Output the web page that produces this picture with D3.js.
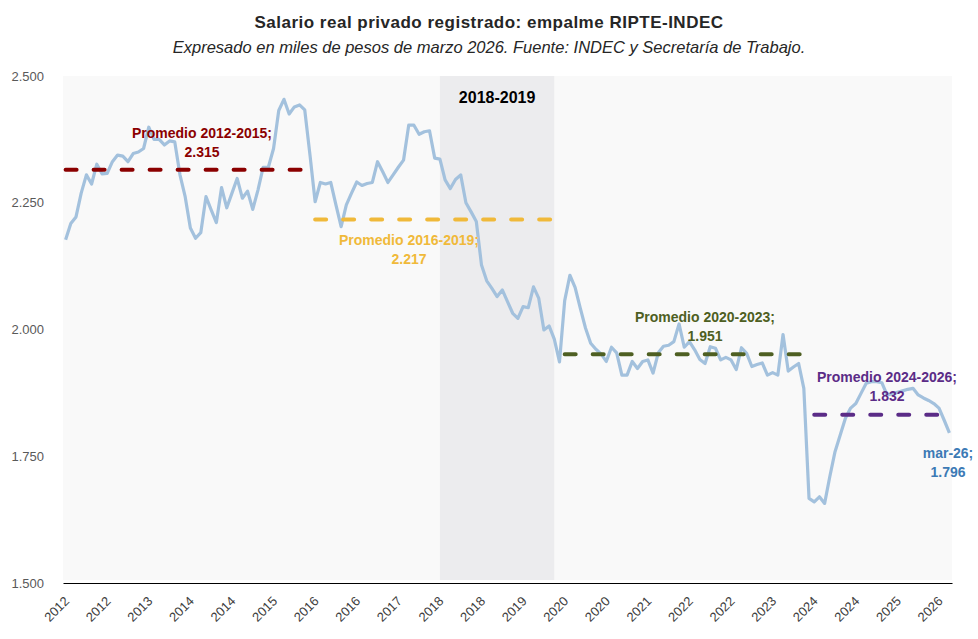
<!DOCTYPE html>
<html>
<head>
<meta charset="utf-8">
<script src="https://cdn.jsdelivr.net/npm/d3@7"></script>
<style>
  body { margin: 0; background: #ffffff; }
  svg { display: block; font-family: "Liberation Sans", Arial, sans-serif; }
</style>
</head>
<body>
<div class="chart"></div>
<script>
var svgWidth = 978;
var svgHeight = 639;

var margin = { top: 76, right: 26, bottom: 56, left: 63 };
var width = svgWidth - margin.left - margin.right;
var height = svgHeight - margin.top - margin.bottom;

// monthly series, ene-2012 .. mar-2026 (miles de pesos de mar-2026)
var startYear = 2012;
var monthNames = ["ene", "feb", "mar", "abr", "may", "jun", "jul", "ago", "sep", "oct", "nov", "dic"];
var salario = [
  2177, 2209, 2222, 2269, 2305, 2287, 2326, 2307, 2308, 2331, 2344, 2342,
  2331, 2347, 2350, 2357, 2399, 2375, 2375, 2364, 2372, 2370, 2305, 2262,
  2200, 2180, 2191, 2262, 2236, 2211, 2280, 2240, 2269, 2298, 2259, 2273,
  2237, 2275, 2320, 2320, 2357, 2432, 2454, 2425, 2439, 2443, 2433, 2345,
  2252, 2290, 2287, 2290, 2246, 2203, 2246, 2269, 2291, 2284, 2288, 2290,
  2331, 2311, 2290, 2305, 2320, 2334, 2403, 2403, 2385, 2390, 2392, 2338,
  2336, 2295, 2278, 2296, 2305, 2250, 2232, 2213, 2127, 2096, 2081, 2065,
  2078, 2055, 2032, 2022, 2045, 2043, 2084, 2062, 1999, 2007, 1981, 1936,
  2057, 2107, 2083, 2042, 2003, 1973, 1961, 1952, 1937, 1965, 1954, 1910,
  1910, 1937, 1923, 1937, 1940, 1914, 1954, 1967, 1969, 1976, 2011, 1965,
  1976, 1960, 1941, 1933, 1966, 1963, 1940, 1945, 1940, 1921, 1964, 1953,
  1927, 1931, 1934, 1910, 1915, 1910, 1990, 1918, 1926, 1933, 1884, 1667,
  1660, 1670, 1657, 1710, 1759, 1792, 1825, 1845, 1854, 1874, 1894, 1897,
  1897, 1895, 1871, 1873, 1876, 1879, 1882, 1884, 1871, 1865, 1860, 1854,
  1845, 1821, 1796
];
var months = salario.map(function(d, i) {
  return monthNames[i % 12] + "-" + String(startYear + Math.floor(i / 12)).slice(2);
});

// period averages
var avgNames = ["Promedio 2012-2015", "Promedio 2016-2019", "Promedio 2020-2023", "Promedio 2024-2026"];
var avgValues = [2315, 2217, 1951, 1832];
var avgFrom = ["ene-12", "ene-16", "ene-20", "ene-24"];
var avgTo = ["dic-15", "dic-19", "dic-23", "mar-26"];

var shadeFrom = "ene-18";
var shadeTo = "nov-19";
var shadeLabel = "2018-2019";

var yTicks = [1500, 1750, 2000, 2250, 2500];
var labelEvery = 8;

// styles / label placement
var avgColors = ["#8b0000", "#f0b93a", "#4e5f22", "#5b2c87"];
var avgLabelPos = [[202, 138], [409, 245], [705, 322], [887, 382]];

var fmt = d3.formatLocale({ decimal: ",", thousands: ".", grouping: [3], currency: ["$", ""] }).format(",.0f");
var fmt3 = function(v) { return (v / 1000).toFixed(3); };

var svg = d3.select(".chart")
  .append("svg")
  .attr("width", svgWidth)
  .attr("height", svgHeight);

svg.append("text")
  .attr("x", 489)
  .attr("y", 28)
  .attr("text-anchor", "middle")
  .attr("font-size", "17px")
  .attr("letter-spacing", "0.5px")
  .attr("font-weight", "bold")
  .attr("fill", "#262626")
  .text("Salario real privado registrado: empalme RIPTE-INDEC");

svg.append("text")
  .attr("x", 489)
  .attr("y", 53)
  .attr("text-anchor", "middle")
  .attr("font-size", "16.5px")
  .attr("font-style", "italic")
  .attr("fill", "#262626")
  .text("Expresado en miles de pesos de marzo 2026. Fuente: INDEC y Secretaría de Trabajo.");

var chartGroup = svg.append("g")
  .attr("transform", `translate(${margin.left}, ${margin.top})`);

var xScale = d3.scaleBand()
  .domain(months)
  .range([0, width])
  .padding(0);

var yScale = d3.scaleLinear()
  .domain([1500, 2500])
  .range([height, 0]);

var cx = function(m) { return xScale(m) + xScale.bandwidth() / 2; };

// plot background
chartGroup.append("rect")
  .attr("x", 0)
  .attr("y", 0)
  .attr("width", width)
  .attr("height", height - 3)
  .attr("fill", "#f9f9f9");

// 2018-2019 band
chartGroup.append("rect")
  .attr("x", cx(shadeFrom))
  .attr("y", 0)
  .attr("width", cx(shadeTo) - cx(shadeFrom))
  .attr("height", height - 3)
  .attr("fill", "#ececee");

chartGroup.append("text")
  .attr("x", (cx(shadeFrom) + cx(shadeTo)) / 2)
  .attr("y", 27)
  .attr("text-anchor", "middle")
  .attr("font-size", "16px")
  .attr("font-weight", "bold")
  .attr("fill", "#000000")
  .text(shadeLabel);

// axes
var leftAxis = d3.axisLeft(yScale)
  .tickValues(yTicks)
  .tickFormat(fmt)
  .tickSize(0)
  .tickPadding(19);

chartGroup.append("g")
  .call(leftAxis)
  .call(g => g.select(".domain").remove())
  .selectAll("text")
  .attr("font-family", "Liberation Sans, Arial, sans-serif")
  .attr("font-size", "13px")
  .attr("fill", "#595959");

var bottomAxis = d3.axisBottom(xScale)
  .tickValues(months.filter((d, i) => i % labelEvery === 0))
  .tickFormat(d => "20" + d.split("-")[1])
  .tickSize(0)
  .tickSizeOuter(0);

var xAxisG = chartGroup.append("g")
  .attr("transform", `translate(0, ${height})`)
  .call(bottomAxis);

xAxisG.select(".domain")
  .attr("stroke", "#000000")
  .attr("stroke-width", 1.2);

xAxisG.selectAll("text")
  .attr("x", 0)
  .attr("y", 0)
  .attr("dy", 0)
  .attr("transform", "translate(4.5, 19) rotate(-45)")
  .attr("text-anchor", "end")
  .attr("font-family", "Liberation Sans, Arial, sans-serif")
  .attr("font-size", "13px")
  .attr("fill", "#404040");

// series line
var line = d3.line()
  .x((d, i) => cx(months[i]))
  .y(d => yScale(d));

chartGroup.append("path")
  .datum(salario)
  .attr("fill", "none")
  .attr("stroke", "#a3c1dd")
  .attr("stroke-width", 3.2)
  .attr("stroke-linejoin", "round")
  .attr("d", line);

// average lines
avgValues.forEach(function(v, k) {
  chartGroup.append("line")
    .attr("x1", cx(avgFrom[k]))
    .attr("x2", cx(avgTo[k]))
    .attr("y1", yScale(v))
    .attr("y2", yScale(v))
    .attr("stroke", avgColors[k])
    .attr("stroke-width", 4)
    .attr("stroke-linecap", "round")
    .attr("stroke-dasharray", "11 17");

  var t = svg.append("text")
    .attr("text-anchor", "middle")
    .attr("font-size", "14px")
    .attr("font-weight", "bold")
    .attr("fill", avgColors[k]);
  t.append("tspan")
    .attr("x", avgLabelPos[k][0])
    .attr("y", avgLabelPos[k][1])
    .text(avgNames[k] + ";");
  t.append("tspan")
    .attr("x", avgLabelPos[k][0])
    .attr("y", avgLabelPos[k][1] + 19)
    .text(fmt3(v));
});

// last value label
var last = salario.length - 1;
var lastLabel = svg.append("text")
  .attr("text-anchor", "middle")
  .attr("font-size", "14px")
  .attr("font-weight", "bold")
  .attr("fill", "#3c7ab5");
lastLabel.append("tspan")
  .attr("x", 948)
  .attr("y", 458)
  .text(months[last] + ";");
lastLabel.append("tspan")
  .attr("x", 948)
  .attr("y", 477)
  .text(fmt3(salario[last]));
</script>
</body>
</html>
